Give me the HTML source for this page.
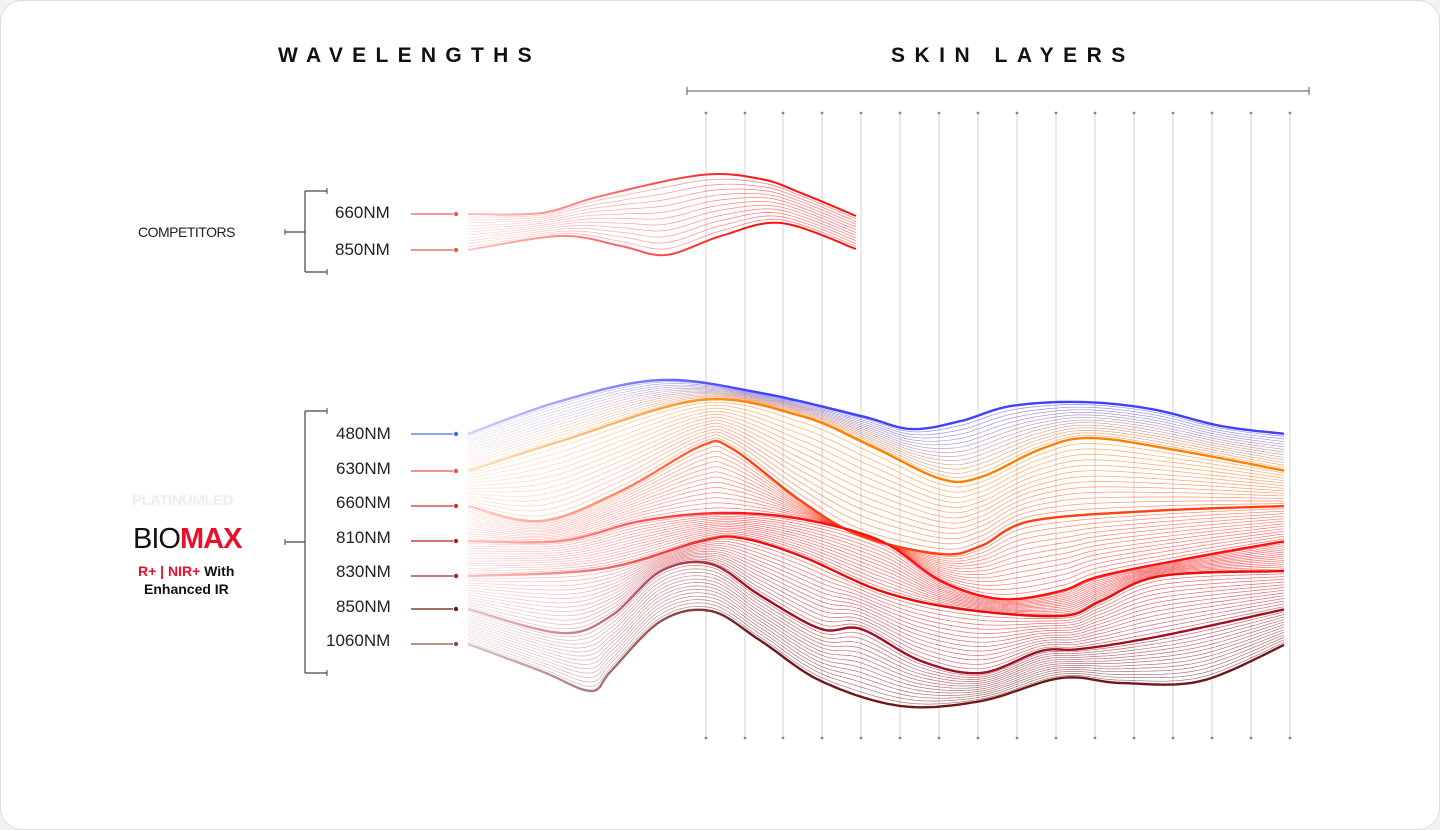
<!DOCTYPE html>
<html><head><meta charset="utf-8"><style>
html,body{margin:0;padding:0;background:#f2f2f2;}
#c{position:absolute;left:0;top:0;width:1438px;height:828px;background:#fff;border:1px solid #ddd;border-radius:22px;overflow:hidden;font-family:"Liberation Sans",Arial,sans-serif;}
.t{position:absolute;font-size:15px;color:#222;}
.h{position:absolute;font-weight:bold;font-size:21px;letter-spacing:9.3px;color:#111;}
</style></head><body><div id="c">
<div class="h" style="left:277px;top:43px">WAVELENGTHS</div>
<div class="h" style="left:890px;top:43px;letter-spacing:9.5px">SKIN LAYERS</div>
<div class="t" style="left:137px;top:223px;font-size:14px;letter-spacing:-0.5px">COMPETITORS</div>
<div class="t" style="left:334px;top:202px;font-size:17px">660NM</div>
<div class="t" style="left:334px;top:239px;font-size:17px">850NM</div>
<div class="t" style="left:335px;top:423px;font-size:17px">480NM</div>
<div class="t" style="left:335px;top:458px;font-size:17px">630NM</div>
<div class="t" style="left:335px;top:492px;font-size:17px">660NM</div>
<div class="t" style="left:335px;top:527px;font-size:17px">810NM</div>
<div class="t" style="left:335px;top:561px;font-size:17px">830NM</div>
<div class="t" style="left:335px;top:596px;font-size:17px">850NM</div>
<div class="t" style="left:325px;top:630px;font-size:17px">1060NM</div>
<div class="t" style="left:131px;top:491px;font-size:15px;font-weight:bold;color:#eee;letter-spacing:-0.5px">PLATINUMLED</div>
<div class="t" style="left:132px;top:522px;font-size:29px;letter-spacing:-1px;color:#111">BIO<b style="color:#e8102a">MAX</b></div>
<div class="t" style="left:137px;top:562px;font-size:14px;font-weight:bold;color:#111"><span style="color:#e8102a">R+ | NIR+</span> With</div>
<div class="t" style="left:143px;top:580px;font-size:14px;font-weight:bold;color:#111">Enhanced IR</div>
<svg id="s" width="1438" height="828" style="position:absolute;left:0;top:0"></svg>
</div>
<script>
const S=document.getElementById('s');let h='<defs><linearGradient id="fd" x1="467" x2="1285" gradientUnits="userSpaceOnUse"><stop offset="0" stop-color="#fff" stop-opacity="0.25"/><stop offset="0.35" stop-color="#fff" stop-opacity="1"/><stop offset="1" stop-color="#fff" stop-opacity="1"/></linearGradient><mask id="m" maskUnits="userSpaceOnUse"><rect x="0" y="0" width="1438" height="828" fill="url(#fd)"/></mask></defs>';
function L(x1,y1,x2,y2,c,w){h+=`<line x1="${x1}" y1="${y1}" x2="${x2}" y2="${y2}" stroke="${c}" stroke-width="${w}"/>`;}
L(686,90,1308,90,'#555',1);L(686,86,686,94,'#555',1);L(1308,86,1308,94,'#555',1);
const xs=[705,744,782,821,860,899,938,977,1016,1055,1094,1133,1172,1211,1250,1289];
xs.forEach(x=>{L(x,112,x,737,'#c8c8c8',0.8);h+=`<circle cx="${x}" cy="112" r="1.4" fill="#888"/><circle cx="${x}" cy="737" r="1.4" fill="#888"/>`;});
function br(x,y1,y2,ym){L(x,y1,x,y2,'#444',1.2);L(x,y1,x+22,y1,'#444',1.2);L(x,y2,x+22,y2,'#444',1.2);L(x-20,ym,x,ym,'#444',1.2);L(x-20,ym-3,x-20,ym+3,'#444',1);L(x+22,y1-3,x+22,y1+3,'#444',1);L(x+22,y2-3,x+22,y2+3,'#444',1);}
br(304,190,271,231);br(304,410,672,541);
function lead(y,c){L(410,y,452,y,c,1.3);h+=`<circle cx="455" cy="${y}" r="2.2" fill="${c}"/>`;}
lead(213,'#f25a5a');lead(249,'#e85c40');
const lc=[[433,'#4a6ee0'],[470,'#e05a4a'],[505,'#d43030'],[540,'#b02020'],[575,'#a02828'],[608,'#6a1a12'],[643,'#8a5048']];
lc.forEach(a=>lead(a[0],a[1]));
h+='<g mask="url(#m)">';
function cr(P,n){const out=[];for(let i=0;i<P.length-1;i++){const p0=P[Math.max(i-1,0)],p1=P[i],p2=P[i+1],p3=P[Math.min(i+2,P.length-1)];for(let k=0;k<n;k++){const t=k/n,t2=t*t,t3=t2*t;const f=(a,b,c,d)=>0.5*(2*b+(-a+c)*t+(2*a-5*b+4*c-d)*t2+(-a+3*b-3*c+d)*t3);out.push([f(p0[0],p1[0],p2[0],p3[0]),f(p0[1],p1[1],p2[1],p3[1])]);}}out.push(P[P.length-1]);return out;}
function rs(P){const s=cr(P,20),r=[];for(let x=P[0][0];x<=P[P.length-1][0]+0.01;x+=4){let j=0;while(j<s.length-2&&s[j+1][0]<x)j++;const a=s[j],b=s[j+1];const t=(b[0]-a[0])?(x-a[0])/(b[0]-a[0]):0;r.push([x,a[1]+(b[1]-a[1])*Math.max(0,Math.min(1,t))]);}return r;}
function pth(pts,c,w,o){h+=`<path d="M${pts.map(p=>p[0].toFixed(1)+','+p[1].toFixed(1)).join('L')}" fill="none" stroke="${c}" stroke-width="${w}" stroke-opacity="${o}"/>`;}
function mix(c1,c2,t){const a=c1.match(/\w\w/g).map(x=>parseInt(x,16)),b=c2.match(/\w\w/g).map(x=>parseInt(x,16));return'rgb('+a.map((v,i)=>Math.round(v+(b[i]-v)*t)).join(',')+')';}
function band(A,B,c1,c2,n){const a=rs(A),b=rs(B);const m=Math.min(a.length,b.length);for(let k=1;k<n;k++){const t=k/n;const p=[];for(let i=0;i<m;i++)p.push([a[i][0],a[i][1]+(b[i][1]-a[i][1])*t]);pth(p,mix(c1,c2,t),0.7,0.6);}}
const cT=[[467,213],[540,212],[600,195],[700,174],[760,178],[800,192],[855,215]];
const cB=[[467,249],[560,235],[620,245],[665,254],[720,235],[780,222],[855,248]];
band(cT,cB,'ff1a1a','ff1a1a',12);pth(rs(cT),'#ff1010',2,1);pth(rs(cB),'#ff1010',2,1);
const C=[
[[467,433],[560,400],[660,379],[760,392],[860,415],[910,428],[960,420],[1010,405],[1080,401],[1150,408],[1220,425],[1285,433]],
[[467,470],[560,440],[700,399],[800,415],[870,445],[940,478],[980,476],[1040,448],[1090,437],[1180,450],[1285,470]],
[[467,505],[540,520],[620,490],[700,445],[730,447],[800,500],[860,535],[940,553],[980,545],[1030,520],[1150,510],[1285,505]],
[[467,540],[560,540],[640,520],[720,512],[800,518],[880,540],[940,580],[1000,598],[1060,590],[1100,575],[1200,555],[1285,540]],
[[467,575],[600,568],[700,540],[740,537],[800,555],[880,590],[960,608],[1060,615],[1100,600],[1160,575],[1285,570]],
[[467,608],[560,632],[610,615],[660,570],[710,563],[760,595],[820,628],[860,628],[920,660],[980,672],[1040,650],[1080,648],[1160,635],[1285,608]],
[[467,643],[540,670],[590,690],[610,670],[660,620],[710,610],[760,640],[820,680],[900,705],[980,700],[1060,677],[1120,682],[1200,680],[1285,643]]];
const cols=['4040ff','ff8000','ff4010','ff1010','e80c0c','a01020','701818'];
for(let i=0;i<6;i++)band(C[i],C[i+1],cols[i],cols[i+1],14);
C.forEach((c,i)=>pth(rs(c),'#'+cols[i],2.4,1));
h+='</g>';
S.innerHTML=h;
</script></body></html>
